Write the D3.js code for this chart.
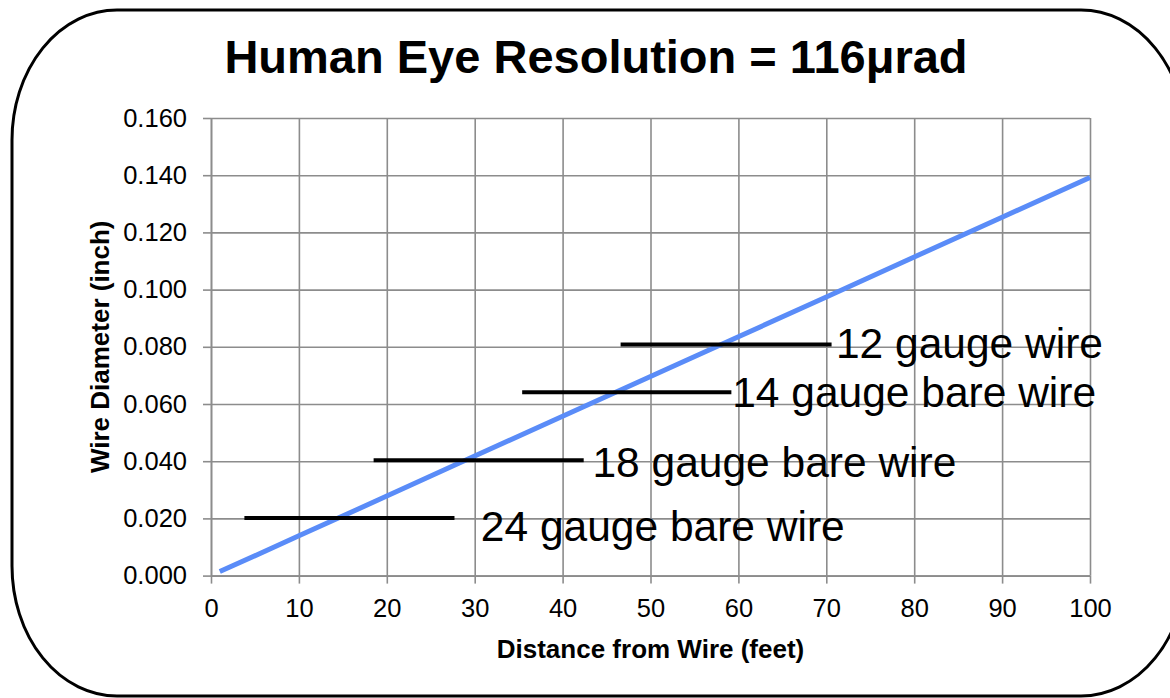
<!DOCTYPE html>
<html>
<head>
<meta charset="utf-8">
<script src="https://cdn.jsdelivr.net/npm/d3@7"></script>
<style>
  body { margin: 0; background: #fff; }
  svg { display: block; font-family: "Liberation Sans", Arial, sans-serif; }
</style>
</head>
<body>
<svg width="1170" height="698"></svg>
<script>
// distance (feet) vs smallest wire diameter the eye can resolve (inch)
var distances = [1, 10, 20, 30, 40, 50, 60, 70, 80, 90, 100];
var diameters = [0.0014, 0.0139, 0.0278, 0.0418, 0.0557, 0.0696, 0.0835, 0.0974, 0.1114, 0.1253, 0.1392];

// wire gauge marks
var gaugeNames = ["12 gauge wire", "14 gauge bare wire", "18 gauge bare wire", "24 gauge bare wire"];
var gaugeDiameters = [0.0808, 0.0641, 0.0403, 0.0201];
var gaugeFrom = [46.6, 35.4, 18.5, 3.8];
var gaugeTo = [70.6, 59.2, 42.4, 27.7];
var labelX = [71.1, 59.3, 43.4, 30.7];
var labelY = [0.0761, 0.0590, 0.0345, 0.0121];

var xTicks = [0, 10, 20, 30, 40, 50, 60, 70, 80, 90, 100];
var yTicks = [0, 0.02, 0.04, 0.06, 0.08, 0.10, 0.12, 0.14, 0.16];

var svg = d3.select("svg"),
    margin = {top: 118, right: 80, bottom: 122.4, left: 211},
    width = svg.attr("width") - margin.left - margin.right,
    height = svg.attr("height") - margin.top - margin.bottom;

// rounded frame (runs off the right edge like the original)
svg.append("rect")
    .attr("x", 12).attr("y", 10)
    .attr("width", 1174).attr("height", 686)
    .attr("rx", 105).attr("ry", 130)
    .style("fill", "none")
    .style("stroke", "#000")
    .style("stroke-width", 3);

svg.append("text")
    .attr("x", 596)
    .attr("y", 73)
    .attr("text-anchor", "middle")
    .style("font-size", "47px")
    .style("font-weight", "bold")
    .text("Human Eye Resolution = 116\u03bcrad");

var g = svg.append("g")
    .attr("transform", "translate(" + margin.left + "," + margin.top + ")");

var x = d3.scaleLinear().domain([0, 100]).range([0, width]);
var y = d3.scaleLinear().domain([0, 0.16]).range([height, 0]);

var gridColor = "#8c8c8c";

// grid
g.append("g")
    .attr("class", "grid")
    .attr("transform", "translate(0," + height + ")")
    .call(d3.axisBottom(x).tickValues(xTicks).tickSize(-height).tickFormat(""));
g.append("g")
    .attr("class", "grid")
    .call(d3.axisLeft(y).tickValues(yTicks).tickSize(-width).tickFormat(""));
g.selectAll(".grid .domain").remove();
g.selectAll(".grid line").style("stroke", gridColor).style("stroke-width", 1.6);

// axes
var xAxis = g.append("g")
    .attr("transform", "translate(0," + height + ")")
    .call(d3.axisBottom(x).tickValues(xTicks).tickSize(8).tickSizeOuter(0).tickPadding(15));
var yAxis = g.append("g")
    .call(d3.axisLeft(y).tickValues(yTicks).tickSize(8).tickSizeOuter(0).tickPadding(16)
        .tickFormat(d3.format(".3f")));

[xAxis, yAxis].forEach(function(a) {
    a.select(".domain").style("stroke", gridColor).style("stroke-width", 1.6);
    a.selectAll("line").style("stroke", gridColor).style("stroke-width", 1.6);
    a.selectAll("text")
        .style("font-family", "'Liberation Sans', Arial, sans-serif")
        .style("font-size", "25.5px")
        .style("fill", "#000");
});

// axis titles
g.append("text")
    .attr("x", width / 2)
    .attr("y", height + 82)
    .attr("text-anchor", "middle")
    .style("font-size", "26px")
    .style("font-weight", "bold")
    .text("Distance from Wire (feet)");

g.append("text")
    .attr("transform", "rotate(-90)")
    .attr("x", -height / 2)
    .attr("y", -102)
    .attr("text-anchor", "middle")
    .style("font-size", "26px")
    .style("font-weight", "bold")
    .text("Wire Diameter (inch)");

// resolution line
var line = d3.line()
    .x(function(d, i) { return x(distances[i]); })
    .y(function(d) { return y(d); });

g.append("path")
    .datum(diameters)
    .attr("d", line)
    .style("fill", "none")
    .style("stroke", "#5a8cf8")
    .style("stroke-width", 5);

// gauge bars and labels
var gauge = g.selectAll(".gauge")
    .data(gaugeNames)
    .enter()
    .append("g")
    .attr("class", "gauge");

gauge.append("line")
    .attr("x1", function(d, i) { return x(gaugeFrom[i]); })
    .attr("x2", function(d, i) { return x(gaugeTo[i]); })
    .attr("y1", function(d, i) { return y(gaugeDiameters[i]); })
    .attr("y2", function(d, i) { return y(gaugeDiameters[i]); })
    .style("stroke", "#000")
    .style("stroke-width", 4);

gauge.append("text")
    .attr("x", function(d, i) { return x(labelX[i]); })
    .attr("y", function(d, i) { return y(labelY[i]); })
    .style("font-size", "42.5px")
    .text(function(d) { return d; });
</script>
</body>
</html>
